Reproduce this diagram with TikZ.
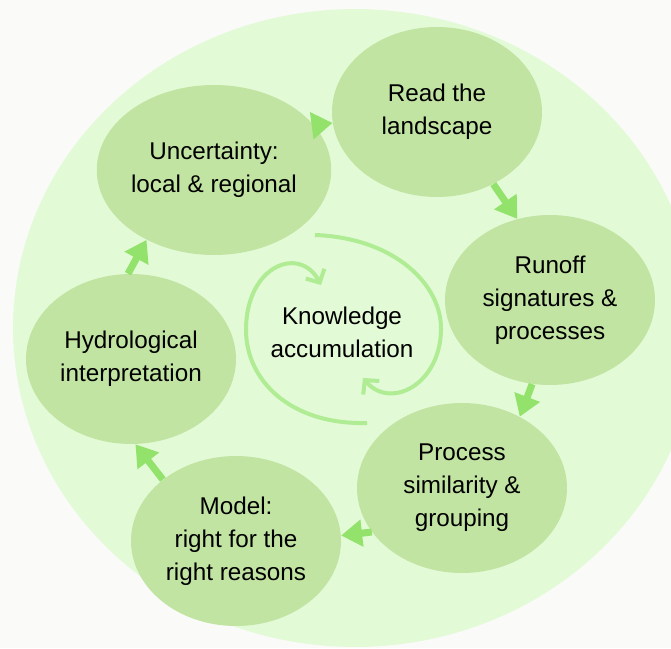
\documentclass[tikz,border=0pt]{standalone}
\usepackage{fontspec}
\setmainfont{Liberation Sans}
\usetikzlibrary{arrows.meta,shapes.geometric}
\definecolor{utenfor}{RGB}{250,251,249}
\definecolor{bakgrunn}{RGB}{226,250,214}
\definecolor{boblefarge}{RGB}{193,228,162}
\definecolor{pilfarge}{RGB}{146,226,108}
\definecolor{spiralfarge}{RGB}{176,236,148}
\tikzset{
    %Define style for the bubbles
    boble/.style={
           ellipse,
           fill=boblefarge,
           minimum width=4.2cm,
           minimum height=3.4cm,
           inner sep=0pt,
           align=center,
           font=\fontsize{13.8}{18.8}\selectfont},
    % Define arrow style
    pil/.style={
           -{Triangle[length=0.42cm,width=0.52cm]},
           draw,
           color=pilfarge,
           line width=0.14cm},
    % Define style for the inner arrows
    spiral/.style={
           -{Straight Barb[length=0.2cm,width=0.42cm]},
           color=spiralfarge,
           line width=0.08cm}
}
\begin{document}
\begin{tikzpicture}[x=0.02cm,y=-0.02cm]

\useasboundingbox (0,0) rectangle (671,648);
\fill[utenfor] (0,0) rectangle (671,648);
\begin{scope}
  \clip (0,0) rectangle (671,648);
  \fill[bakgrunn] (355,328) ellipse [x radius=6.84cm, y radius=6.38cm];
\end{scope}

% inner cycle
\draw[spiral] (315,235) .. controls (395,238) and (442,285) .. (441,330)
    .. controls (440,385) and (390,410) .. (363,378);
\draw[spiral] (367,423) .. controls (290,425) and (246,380) .. (246,330)
    .. controls (246,265) and (300,245) .. (321,285);

\node[font=\fontsize{13.8}{18.8}\selectfont, align=center](0) at (342,332){Knowledge\\accumulation};

\node[boble](1) at (437,112){Read the\\landscape};
\node[boble](2) at (550,300){Runoff\\signatures \&\\processes};
\node[boble](3) at (462,488){Process\\similarity \&\\grouping};
\node[boble](4) at (236,541){Model:\\right for the\\right reasons};
\node[boble](5) at (131,359){Hydrological\\interpretation};
\node[boble](6) at (214,170){Uncertainty:\\local \& regional};

\path[every edge/.style={pil}]
    (6.24) edge (1.186)
    (1.308) edge (2.112)
    (2.258) edge (3.51)
    (3.206) edge (4.3)
    (4.140) edge (5.273)
    (5.92) edge (6.226);

\end{tikzpicture}
\end{document}
